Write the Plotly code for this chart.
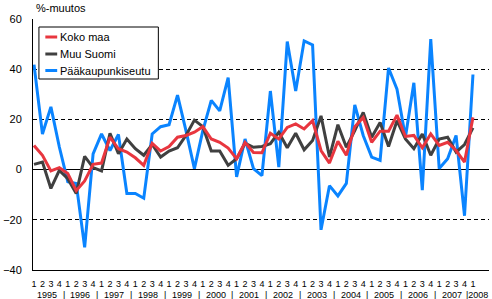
import plotly.graph_objects as go

# ---- data (quarterly % change, 1995Q1 .. 2008Q1) ----
series_names = ["Koko maa", "Muu Suomi", "Pääkaupunkiseutu"]
koko_maa = [9.6, 5.7, -0.5, 0.8, -1.6, -8.4, -4.5, 2.1, 2.6, 12.9, 8.3, 7.0, 4.7, 1.7,
            10.5, 7.4, 9.2, 12.9, 13.6, 14.9, 17.1, 12.2, 10.9, 8.6, 4.3, 10.8, 6.8,
            6.7, 14.5, 12.2, 16.8, 18.2, 16.2, 19.5, 7.6, 2.6, 11.3, 5.7, 17.1, 20.8,
            10.9, 15.3, 15.3, 21.7, 13.2, 13.6, 8.7, 14.2, 9.6, 10.9, 7.6, 3.0, 20.8]
muu_suomi = [2.1, 3.0, -7.5, -0.3, -3.6, -9.5, 5.3, 0.8, -0.5, 14.5, 6.3, 12.2, 8.3, 5.7,
             10.0, 5.0, 7.4, 8.7, 13.6, 19.7, 17.1, 7.4, 7.4, 1.7, 4.3, 10.5, 8.9,
             9.2, 10.3, 14.9, 8.7, 14.5, 7.9, 11.6, 21.4, 5.0, 17.9, 8.9, 15.5, 22.8,
             12.9, 18.8, 9.2, 19.5, 12.2, 8.3, 14.2, 5.7, 12.2, 12.9, 7.0, 10.0, 16.6]
paakaupunkiseutu = [41.8, 14.2, 25.0, 9.0, -4.8, -5.5, -31.0, 6.3, 14.2, 7.6, 14.0, -9.5, -9.5, -11.4,
                    14.2, 17.1, 17.9, 29.7, 15.5, 0.4, 15.5, 27.6, 23.4, 36.6, -2.9, 12.2, 0.4,
                    -2.4, 31.3, 1.0, 51.0, 31.3, 51.3, 49.7, -24.0, -6.4, -10.5, -5.5, 25.8, 13.6,
                    5.0, 3.7, 40.5, 32.0, 12.9, 34.6, -8.2, 52.0, 0.4, 4.3, 13.6, -18.4, 37.9]
years = list(range(1995, 2009))
quarter_labels = ["1", "2", "3", "4"]
y_ticks = [-40, -20, 0, 20, 40, 60]
y_title = "%-muutos"

colors = ["#e8363f", "#404040", "#0a84ff"]
FONT = "Liberation Sans, Arial, sans-serif"

n = len(koko_maa)
x = list(range(n))
tick_text = [quarter_labels[i % 4] for i in x]
year_of = [years[i // 4] for i in x]
all_vals = [koko_maa, muu_suomi, paakaupunkiseutu]

fig = go.Figure()
# blue at the bottom, red on top (as in the reference)
for k in [2, 1, 0]:
    fig.add_trace(go.Scatter(x=x, y=all_vals[k], mode="lines", name=series_names[k],
                             line=dict(color=colors[k], width=3), showlegend=False))

# plot-area geometry in pixels
W, H = 492, 299
L, R, T, B = 27, 3, 19, 29
pw, ph = W - L - R, H - T - B


def px(xp):
    return (xp - L) / pw


def py(yp):
    return (H - B - yp) / ph


annotations = []
yfont = dict(size=9, color="black", family=FONT)
# year labels and separators
for yr in years:
    idx = [i for i in x if year_of[i] == yr]
    if not idx:
        continue
    if len(idx) == 4:
        annotations.append(dict(x=sum(idx) / len(idx), y=0, xref="x", yref="paper",
                                yshift=-24.5, text=str(yr), showarrow=False, font=yfont,
                                xanchor="center", yanchor="middle"))
        if idx[0] > 0:
            annotations.append(dict(x=idx[0] - 0.5, y=0, xref="x", yref="paper",
                                    yshift=-24.5, text="|", showarrow=False, font=yfont,
                                    xanchor="center", yanchor="middle"))
    else:
        # partial last year: separator placed just before the label
        annotations.append(dict(x=idx[0] - 1, y=0, xref="x", yref="paper",
                                yshift=-24.5, text="|" + str(yr), showarrow=False, font=yfont,
                                xanchor="left", yanchor="middle", xshift=-1))

# y title
annotations.append(dict(x=px(28), y=py(8), xref="paper", yref="paper", text=y_title,
                        showarrow=False, xanchor="left", yanchor="middle",
                        font=dict(size=11, color="black", family=FONT)))

# legend box
shapes = [dict(type="rect", xref="paper", yref="paper", x0=px(33), x1=px(154),
               y0=py(79), y1=py(27), fillcolor="white", line=dict(color="black", width=1),
               layer="above")]
leg_y = [37, 54, 70.5]
for k in range(3):
    shapes.append(dict(type="line", xref="paper", yref="paper", x0=px(39.5), x1=px(51.5),
                       y0=py(leg_y[k]), y1=py(leg_y[k]),
                       line=dict(color=colors[k], width=3), layer="above"))
    annotations.append(dict(x=px(52), y=py(leg_y[k]), xref="paper", yref="paper",
                            text=series_names[k], showarrow=False, xanchor="left",
                            yanchor="middle", font=dict(size=11, color="black", family=FONT)))

fig.update_layout(
    width=W, height=H,
    margin=dict(l=L, r=R, t=T, b=B, pad=0),
    paper_bgcolor="white", plot_bgcolor="white",
    font=dict(family=FONT, color="black"),
    showlegend=False,
    annotations=annotations,
    shapes=shapes,
    xaxis=dict(range=[-0.12, 53.9], tickmode="array", tickvals=x, ticktext=tick_text,
               tickangle=0,
               showgrid=False, zeroline=False, showline=True, linecolor="black", linewidth=1,
               ticks="", tickfont=dict(size=9, color="black", family=FONT),
               ticklabelstandoff=5, fixedrange=True),
    yaxis=dict(range=[-40, 60], tickmode="array", tickvals=y_ticks,
               showgrid=True, gridcolor="black", gridwidth=1, griddash="4px,3px",
               zeroline=True, zerolinecolor="black", zerolinewidth=1,
               showline=True, linecolor="black", linewidth=1, ticks="",
               tickfont=dict(size=11, color="black", family=FONT),
               ticklabelstandoff=8, fixedrange=True),
)

fig.write_html("out.html", config={"displayModeBar": False})
